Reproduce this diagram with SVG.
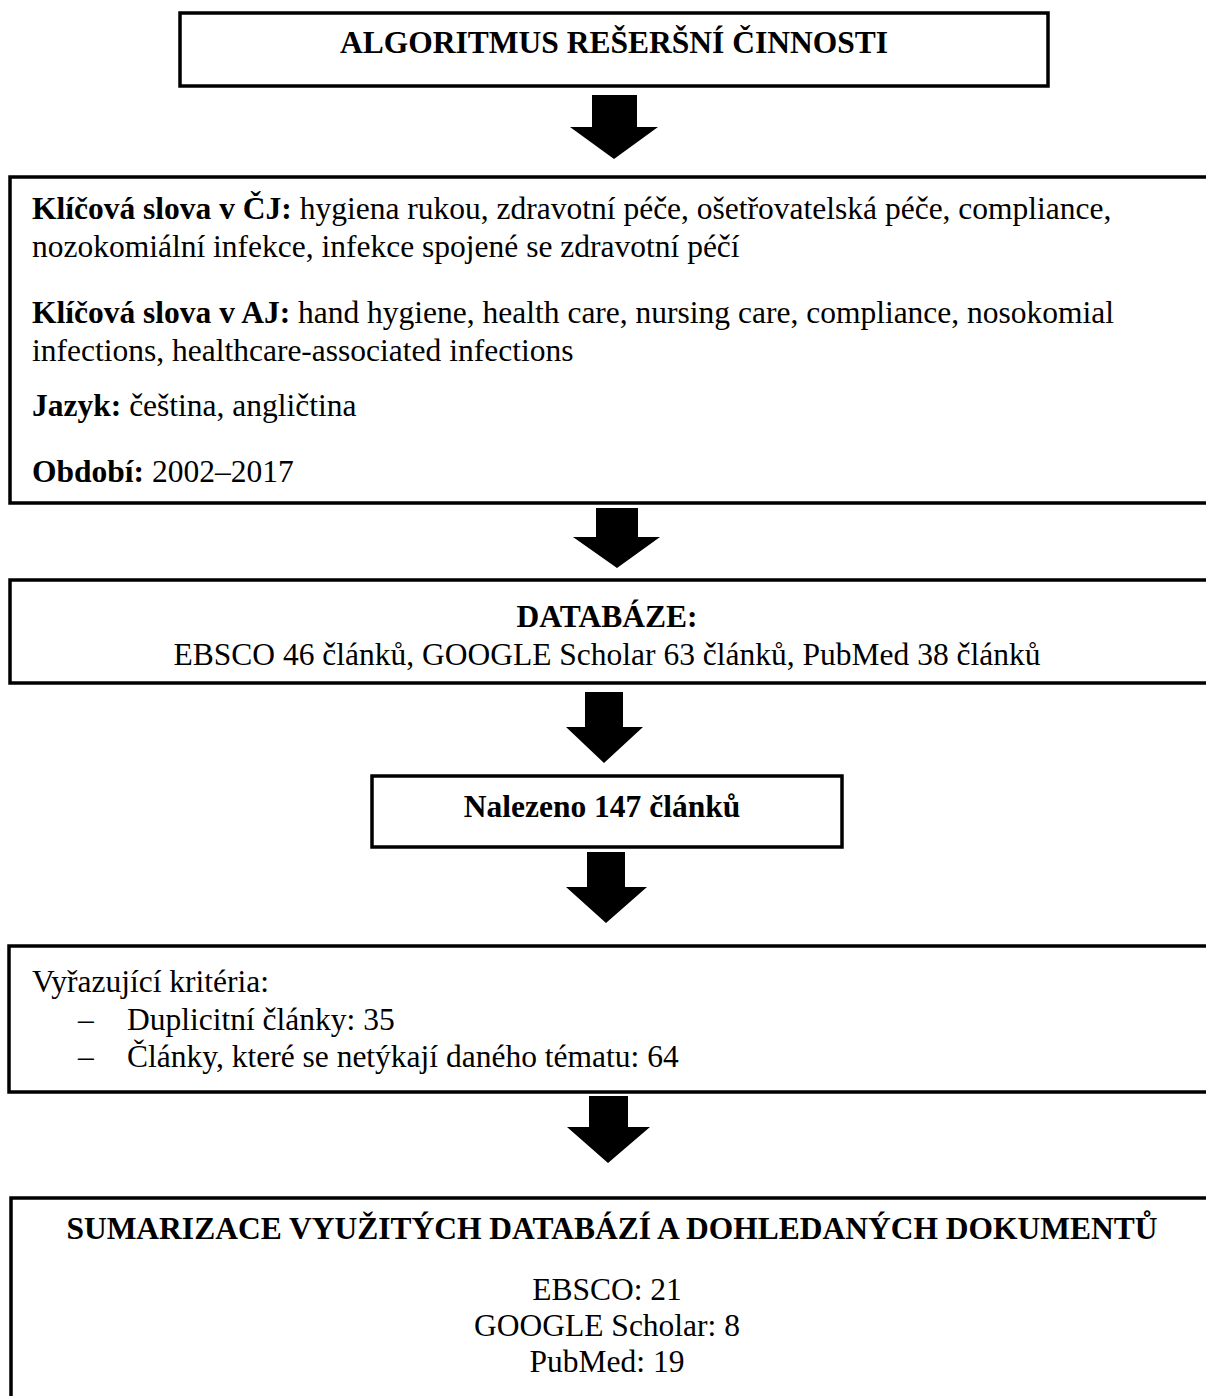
<svg xmlns="http://www.w3.org/2000/svg" width="1206" height="1396" viewBox="0 0 1206 1396">
<style>
  .box { fill: #ffffff; stroke: #000000; stroke-width: 3.5; }
  text { font-family: "Liberation Serif", "Times New Roman", serif; font-size: 31.5px; fill: #000000; }
  .b { font-weight: bold; }
  .c { text-anchor: middle; }
  .arrow { fill: #000000; stroke: none; }
</style>
<rect x="0" y="0" width="1206" height="1396" fill="#ffffff"/>

<g id="node-title">
  <rect class="box" x="180" y="13" width="868" height="73"/>
  <text class="b c" x="614" y="53">ALGORITMUS REŠERŠNÍ ČINNOSTI</text>
</g>

<g id="node-keywords">
  <rect class="box" x="10" y="177" width="1210" height="326"/>
  <text x="32" y="219"><tspan class="b">Klíčová slova v ČJ:</tspan> hygiena rukou, zdravotní péče, ošetřovatelská péče, compliance,</text>
  <text x="32" y="257">nozokomiální infekce, infekce spojené se zdravotní péčí</text>
  <text x="32" y="323"><tspan class="b">Klíčová slova v AJ:</tspan> hand hygiene, health care, nursing care, compliance, nosokomial</text>
  <text x="32" y="361">infections, healthcare-associated infections</text>
  <text x="32" y="416"><tspan class="b">Jazyk:</tspan> čeština, angličtina</text>
  <text x="32" y="482"><tspan class="b">Období:</tspan> 2002–2017</text>
</g>

<g id="node-databaze">
  <rect class="box" x="10" y="580" width="1210" height="103"/>
  <text class="b c" x="607" y="627">DATABÁZE:</text>
  <text class="c" x="607" y="665">EBSCO 46 článků, GOOGLE Scholar 63 článků, PubMed 38 článků</text>
</g>

<g id="node-nalezeno">
  <rect class="box" x="372" y="776" width="470" height="71"/>
  <text class="b c" x="602" y="817">Nalezeno 147 článků</text>
</g>

<g id="node-kriteria">
  <rect class="box" x="9" y="946" width="1210" height="146"/>
  <text x="32" y="992">Vyřazující kritéria:</text>
  <text x="78" y="1030">–</text>
  <text x="127" y="1030">Duplicitní články: 35</text>
  <text x="78" y="1067">–</text>
  <text x="127" y="1067">Články, které se netýkají daného tématu: 64</text>
</g>

<g id="node-sumarizace">
  <rect class="box" x="11" y="1198" width="1210" height="220"/>
  <text class="b c" x="612" y="1239">SUMARIZACE VYUŽITÝCH DATABÁZÍ A DOHLEDANÝCH DOKUMENTŮ</text>
  <text class="c" x="607" y="1300">EBSCO: 21</text>
  <text class="c" x="607" y="1336">GOOGLE Scholar: 8</text>
  <text class="c" x="607" y="1372">PubMed: 19</text>
</g>

<g id="connectors">
  <polygon class="arrow" points="592,95 637,95 637,127 658,127 614,159 570,127 592,127"/>
  <polygon class="arrow" points="596,508 638,508 638,537 660,537 617,568 573,537 596,537"/>
  <polygon class="arrow" points="585,692 623,692 623,727 643,727 604,763 566,727 585,727"/>
  <polygon class="arrow" points="587,852 625,852 625,887 647,887 606,923 566,887 587,887"/>
  <polygon class="arrow" points="589,1096 628,1096 628,1127 650,1127 608,1163 567,1127 589,1127"/>
</g>
</svg>
